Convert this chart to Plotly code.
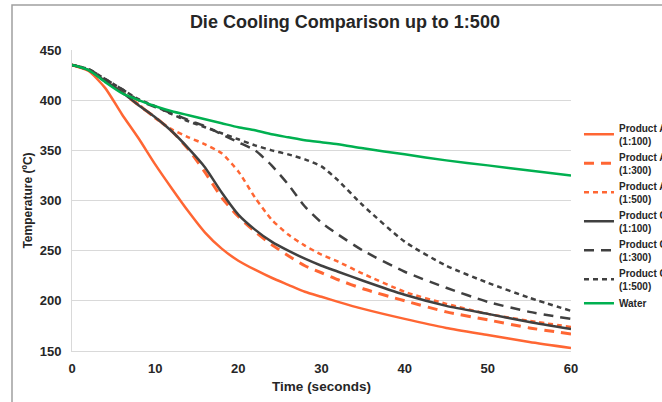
import plotly.graph_objects as go

time_s = [0, 2, 4, 6, 8, 10, 12, 14, 16, 18, 20, 22, 24, 26, 28, 30, 32, 35, 40, 45, 50, 55, 60]

product_a_100 = [435, 429, 412, 386, 362, 336, 312, 289, 268, 252, 240, 231, 223, 216, 209, 204, 199, 192, 182, 173, 166, 159, 153]
product_a_300 = [435, 430, 419, 408, 395, 383, 369, 351, 328, 303, 284, 269, 256, 245, 235, 228, 221, 212, 200, 189, 181, 173, 167]
product_a_500 = [435, 430, 419, 408, 396, 382, 371, 363, 356, 347, 329, 303, 281, 266, 255, 246, 239, 227, 209, 197, 187, 180, 174]
product_c_100 = [435, 430, 419, 408, 395, 383, 369, 352, 333, 308, 286, 271, 259, 250, 242, 235, 229, 220, 206, 195, 187, 179, 172]
product_c_300 = [435, 431, 421, 411, 400, 393, 387, 380, 374, 366, 358, 350, 335, 316, 294, 278, 266, 250, 229, 213, 199, 189, 182]
product_c_500 = [435, 431, 421, 411, 401, 394, 386, 379, 373, 367, 361, 355, 350, 346, 341, 334, 320, 295, 259, 235, 218, 203, 190]
water = [435, 430, 418, 407, 400, 394, 389, 385, 381, 377, 373, 370, 366, 363, 360, 358, 356, 352, 346, 340, 335, 330, 325]

y_ticks = [150, 200, 250, 300, 350, 400, 450]
x_ticks = [0, 10, 20, 30, 40, 50, 60]

ORANGE = "#FF6633"
GRAY = "#404040"
GREEN = "#00B050"

series = [
    ("Product A<br>(1:100)", product_a_100, ORANGE, "solid", 2.5),
    ("Product A<br>(1:300)", product_a_300, ORANGE, "10px,7px", 3),
    ("Product A<br>(1:500)", product_a_500, ORANGE, "5px,4px", 2.5),
    ("Product C<br>(1:100)", product_c_100, GRAY, "solid", 2.5),
    ("Product C<br>(1:300)", product_c_300, GRAY, "10px,7px", 2.5),
    ("Product C<br>(1:500)", product_c_500, GRAY, "5px,4px", 2.5),
    ("Water", water, GREEN, "solid", 2.5),
]

fig = go.Figure()
for name, vals, color, dash, w in series:
    fig.add_trace(go.Scatter(
        x=time_s, y=vals, name="<b>" + name.replace("<br>", "</b><br><b>") + "</b>", mode="lines",
        line=dict(color=color, dash=dash, width=w, shape="spline", smoothing=0.6),
    ))

FONT = "Liberation Sans, Arial, sans-serif"
TXT = "#262626"

fig.update_layout(
    width=662, height=402,
    paper_bgcolor="white", plot_bgcolor="white",
    margin=dict(l=72, r=91, t=50, b=51, autoexpand=False),
    font=dict(family=FONT, color=TXT),
    title=dict(text="<b>Die Cooling Comparison up to 1:500</b>",
               x=0.521, xref="container", xanchor="center",
               y=1 - 22 / 402, yref="container", yanchor="middle",
               font=dict(size=18, color=TXT, family=FONT)),
    showlegend=True,
    legend=dict(x=1.016, xanchor="left", y=0.785, yanchor="top",
                font=dict(size=10, color=TXT, family=FONT),
                bgcolor="rgba(0,0,0,0)", borderwidth=0,
                itemwidth=30, tracegroupgap=0),
    xaxis=dict(range=[0, 60], tickvals=x_ticks, ticktext=[f"<b>{v}</b>" for v in x_ticks],
               showgrid=False, zeroline=False, showline=True, linecolor="#D9D9D9", linewidth=1,
               ticks="", ticklabelstandoff=5, tickfont=dict(size=13, color=TXT),
               title=dict(text="<b>Time (seconds)</b>", font=dict(size=13.5, color=TXT), standoff=6)),
    yaxis=dict(range=[150, 450], tickvals=y_ticks, ticktext=[f"<b>{v}</b>" for v in y_ticks],
               showgrid=True, gridcolor="#D9D9D9", gridwidth=1, zeroline=False,
               showline=True, linecolor="#D9D9D9", linewidth=1,
               ticks="", ticklabelstandoff=7, tickfont=dict(size=13, color=TXT),
               title=dict(text="<b>Temperature (ºC)</b>", font=dict(size=12, color=TXT), standoff=4)),
)

fig.add_shape(type="rect", xref="paper", yref="paper",
              x0=-60 / 499, x1=2.0, y0=-1.0, y1=346 / 301,
              line=dict(color="#A0A0A0", width=1.5), fillcolor="rgba(0,0,0,0)", layer="above")

fig.write_html("out.html", config={"displayModeBar": False},
               post_script="document.body.style.margin='0';")
